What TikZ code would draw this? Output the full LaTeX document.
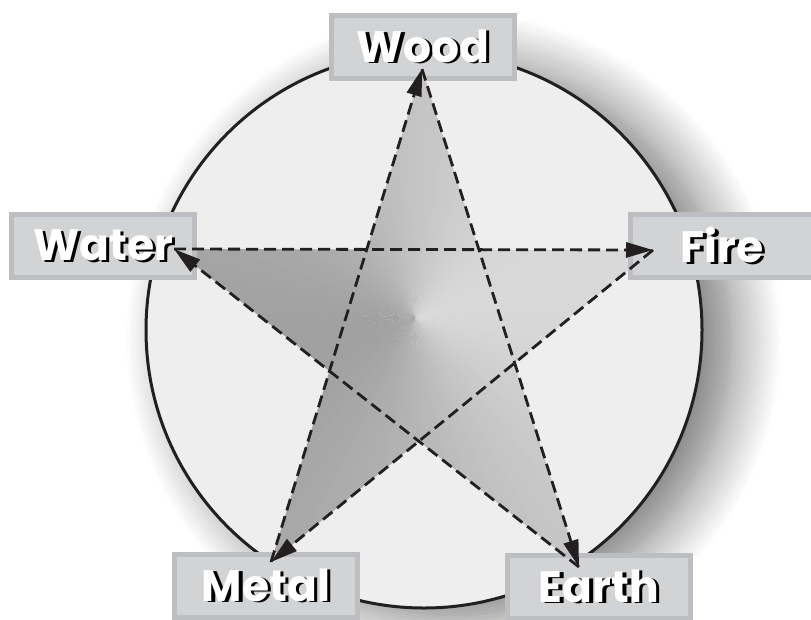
\documentclass[tikz,border=0pt]{standalone}
\usepackage{fontspec}
\newfontfamily\elemfont{Poppins Bold}
\usetikzlibrary{arrows.meta, shadows.blur, calc}
\definecolor{ringfill}{HTML}{EEEEEE}
\definecolor{ringline}{HTML}{231F20}
\definecolor{boxedge}{HTML}{BDBEC1}
\definecolor{boxfill}{HTML}{D2D3D5}
\newcommand\elemtext[1]{\makebox[0pt][l]{\hspace{3.5pt}\raisebox{-1.5pt}{\color{black}#1}}{\color{white}#1}}

\begin{document}
\begin{tikzpicture}[x=1pt,y=-1pt,>={Triangle[length=27pt,width=15pt]},
  element/.style={draw=boxedge,line width=5pt,fill=boxfill,minimum width=183pt,
                  minimum height=63pt,inner sep=0pt,
                  font=\elemfont\fontsize{44pt}{44pt}\selectfont},
  cycleline/.style={->,line width=2.8pt,dash pattern=on 12pt off 6pt,ringline}]
  \useasboundingbox (0,0) rectangle (811,619);
  % ring with its soft shadow
  \coordinate (ring) at (424,330);
  \coordinate (hub) at (415,318);
  \fill[ringfill,draw=ringline,line width=3pt,
        blur shadow={shadow xshift=30pt,shadow yshift=-10pt,shadow blur radius=50pt,
                     shadow opacity=55,shadow blur steps=16}]
    (ring) circle[radius=278pt];
  % star points
  \coordinate (woodtip) at (422,69);
  \coordinate (firetip) at (653,250);
  \coordinate (earthtip) at (579,567);
  \coordinate (metaltip) at (271,562);
  \coordinate (watertip) at (174,249);
  % conic shaded star
  \begin{scope}
    \clip (woodtip) -- (earthtip) -- (watertip) -- (firetip) -- (metaltip) -- cycle;
    \foreach \a in {0,3,...,357}{
      \pgfmathsetmacro\lev{26+11*cos(\a+1.5-195)}
      \fill[black!\lev!white] (hub) -- ($(hub)+(\a:500pt)$) -- ($(hub)+(\a+3.3:500pt)$) -- cycle;
    }
  \end{scope}
  % elements
  \node[element] (wood) at (423,47) {\elemtext{Wood}};
  \node[element] (water) at (103,246) {\elemtext{Water}};
  \node[element] (fire) at (722,246) {\elemtext{Fire}};
  \node[element] (metal) at (266,586) {\elemtext{Metal}};
  \node[element] (earth) at (599,587) {\elemtext{Earth}};
  % cycle
  \draw[cycleline] (metaltip) -- (woodtip);
  \draw[cycleline] (woodtip) -- (earthtip);
  \draw[cycleline] (earthtip) -- (watertip);
  \draw[cycleline] (watertip) -- (firetip);
  \draw[cycleline] (firetip) -- (metaltip);
\end{tikzpicture}
\end{document}
